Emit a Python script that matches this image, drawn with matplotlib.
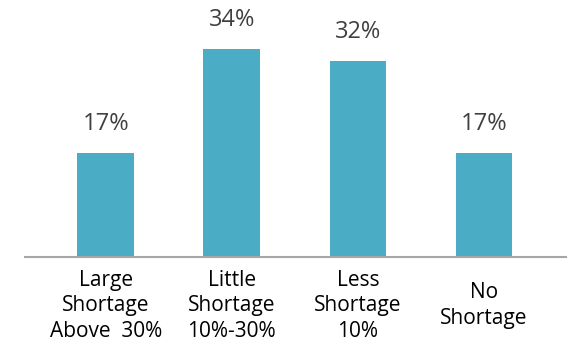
import matplotlib.pyplot as plt

categories = ["Large\nShortage\nAbove  30%", "Little\nShortage\n10%-30%", "Less\nShortage\n10%", "No\nShortage"]
shares = [17, 34, 32, 17]

plt.rcParams['font.family'] = ['Open Sans', 'DejaVu Sans']

fig = plt.figure(figsize=(5.68, 3.48), dpi=100)
ax = fig.add_axes([25 / 568, 91 / 348, 541 / 568, 257 / 348])

x = range(len(categories))
ax.bar(x, shares, width=0.45, color='#4BACC6', zorder=2)

for xi, v in zip(x, shares):
    ax.annotate(f"{v}%", (xi, v), xytext=(0, 17), textcoords='offset pixels',
                ha='center', va='bottom', fontsize=17, color='#404040')

ax.set_xlim(-0.64, 3.65)
ax.set_ylim(0, 42)
ax.set_xticks(list(x))
# labels centred vertically so the two-line one sits in the middle of the block
ax.set_xticklabels(categories, fontsize=15, color='black', linespacing=1.28,
                   va='center')
ax.tick_params(axis='x', length=0, pad=35)
ax.set_yticks([])
for side in ['top', 'right', 'left']:
    ax.spines[side].set_visible(False)
ax.spines['bottom'].set_color('#A6A6A6')
ax.spines['bottom'].set_linewidth(1.5)

fig.savefig('out.png', dpi=100)
